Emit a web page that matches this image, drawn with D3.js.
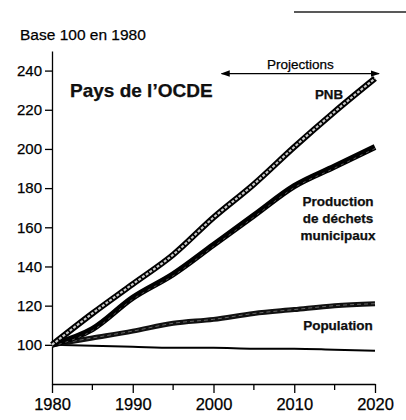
<!DOCTYPE html>
<meta charset="utf-8">
<style>

body {
  margin: 0;
  background: #fff;
}

svg {
  font-family: "Liberation Sans", Arial, sans-serif;
}

text {
  stroke: #000;
  stroke-width: 0.25;
}

.axis path,
.axis line {
  stroke: #000;
  stroke-width: 1.3;
}

.axis text {
  fill: #000;
}

.label {
  font-weight: bold;
  fill: #111;
}

</style>
<body>
<script src="https://cdn.jsdelivr.net/npm/d3@7"></script>
<script>

var years = [1980, 1985, 1990, 1995, 2000, 2005, 2010, 2015, 2020];

// values (base 100 in 1980)
var pnb        = [100, 116, 131, 146, 165, 182, 201, 219, 236];
var dechets    = [100, 108, 124, 136, 151, 166, 181, 191, 201];
var population = [100, 103.5, 107, 111, 113, 116, 118, 120, 121];
var autre      = [100, 99.5, 99, 98.5, 98.5, 98, 98, 97.5, 97];

var yTicks = [100, 120, 140, 160, 180, 200, 220, 240];
var xTicks = [1980, 1990, 2000, 2010, 2020];
var xMinor = [1985, 1995, 2005, 2015];
var projection = [2001, 2020.5];

var width = 406,
    height = 420;

var x = d3.scaleLinear()
    .domain([1980, 2020])
    .range([52, 375]);

var y = d3.scaleLinear()
    .domain([80, 250])
    .range([384, 51]);

var svg = d3.select("body").append("svg")
    .attr("width", width)
    .attr("height", height);

// scan artefact at the top right
svg.append("line")
    .attr("x1", 294).attr("x2", 406)
    .attr("y1", 12).attr("y2", 12)
    .attr("stroke", "#222")
    .attr("stroke-width", 1.3);

svg.append("text")
    .attr("x", 20)
    .attr("y", 40)
    .style("font-size", "15.5px")
    .text("Base 100 en 1980");

var yAxis = d3.axisLeft(y)
    .tickValues(yTicks)
    .tickSize(7)
    .tickSizeOuter(0)
    .tickPadding(3);

svg.append("g")
    .attr("class", "y axis")
    .attr("transform", "translate(" + x(1980) + ",0)")
    .call(yAxis)
    .selectAll("text")
    .style("font-size", "15px");

var xAxis = d3.axisBottom(x)
    .tickValues(xTicks)
    .tickFormat(d3.format("d"))
    .tickSize(9)
    .tickSizeOuter(0)
    .tickPadding(5);

svg.append("g")
    .attr("class", "x axis")
    .attr("transform", "translate(0," + y(80) + ")")
    .call(xAxis)
    .selectAll("text")
    .style("font-size", "16.5px");

svg.append("g")
    .attr("class", "x axis")
    .selectAll("line")
    .data(xMinor)
  .enter().append("line")
    .attr("x1", function(d) { return x(d); })
    .attr("x2", function(d) { return x(d); })
    .attr("y1", y(80))
    .attr("y2", y(80) + 6);

var line = d3.line()
    .x(function(d, i) { return x(years[i]); })
    .y(function(d) { return y(d); })
    .curve(d3.curveMonotoneX);

// thin line
svg.append("path")
    .attr("d", line(autre))
    .attr("fill", "none")
    .attr("stroke", "#000")
    .attr("stroke-width", 2);

// population
svg.append("path")
    .attr("d", line(population))
    .attr("fill", "none")
    .attr("stroke", "#111")
    .attr("stroke-width", 5);
svg.append("path")
    .attr("d", line(population))
    .attr("fill", "none")
    .attr("stroke", "#666")
    .attr("stroke-width", 1)
    .attr("stroke-dasharray", "4,3");

// waste
svg.append("path")
    .attr("d", line(dechets))
    .attr("fill", "none")
    .attr("stroke", "#000")
    .attr("stroke-width", 6);
svg.append("path")
    .attr("d", line(dechets))
    .attr("fill", "none")
    .attr("stroke", "#555")
    .attr("stroke-width", 1)
    .attr("stroke-dasharray", "3,4")
    .attr("transform", "translate(0,1.5)");

// GNP: outlined line with a light hatched core
svg.append("path")
    .attr("d", line(pnb))
    .attr("fill", "none")
    .attr("stroke", "#000")
    .attr("stroke-width", 6);
svg.append("path")
    .attr("d", line(pnb))
    .attr("fill", "none")
    .attr("stroke", "#c8c8c8")
    .attr("stroke-width", 2.2)
    .attr("stroke-dasharray", "3,1.5");

// projections arrow
var defs = svg.append("defs");
defs.append("marker")
    .attr("id", "head")
    .attr("viewBox", "0 -5 10 10")
    .attr("refX", 9)
    .attr("markerWidth", 7)
    .attr("markerHeight", 7)
    .attr("orient", "auto-start-reverse")
  .append("path")
    .attr("d", "M0,-3.5L10,0L0,3.5Z")
    .attr("fill", "#000");

var arrowY = y(238.5);
svg.append("line")
    .attr("x1", x(projection[0]))
    .attr("x2", x(projection[1]))
    .attr("y1", arrowY)
    .attr("y2", arrowY)
    .attr("stroke", "#000")
    .attr("stroke-width", 1.3)
    .attr("marker-start", "url(#head)")
    .attr("marker-end", "url(#head)");

svg.append("text")
    .attr("x", (x(projection[0]) + x(projection[1])) / 2)
    .attr("y", arrowY - 5)
    .attr("text-anchor", "middle")
    .style("font-size", "13.5px")
    .text("Projections");

svg.append("text")
    .attr("class", "label")
    .attr("x", 70)
    .attr("y", 97)
    .style("font-size", "19px")
    .text("Pays de l\u2019OCDE");

svg.append("text")
    .attr("class", "label")
    .attr("x", 329)
    .attr("y", 99)
    .attr("text-anchor", "middle")
    .style("font-size", "13.3px")
    .text("PNB");

var wasteLabel = svg.append("text")
    .attr("class", "label")
    .attr("text-anchor", "middle")
    .style("font-size", "13.5px");
["Production", "de d\u00e9chets", "municipaux"].forEach(function(t, i) {
  wasteLabel.append("tspan")
      .attr("x", 338)
      .attr("y", 206 + i * 17)
      .text(t);
});

svg.append("text")
    .attr("class", "label")
    .attr("x", 338)
    .attr("y", 330)
    .attr("text-anchor", "middle")
    .style("font-size", "13.5px")
    .text("Population");

</script>
